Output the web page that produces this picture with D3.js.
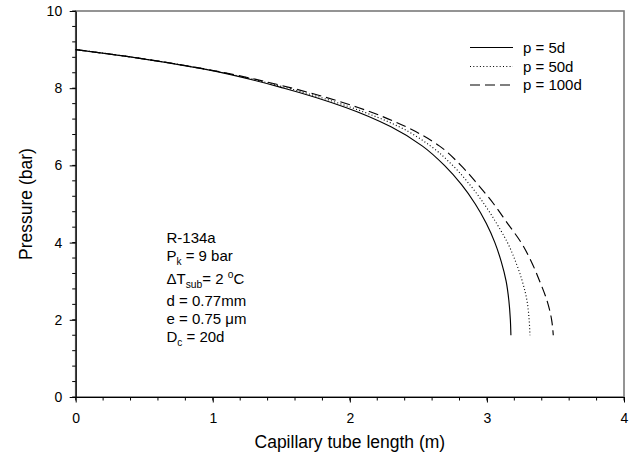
<!DOCTYPE html>
<html>
<head>
<meta charset="utf-8">
<script src="https://cdn.jsdelivr.net/npm/d3@7"></script>
<style>
  html, body { margin: 0; padding: 0; background: #fff; }
  svg { display: block; font-family: "Liberation Sans", Arial, sans-serif; }
</style>
</head>
<body>
<svg id="chart" width="634" height="466"></svg>
<script>
// Capillary tube pressure profiles: tube length (m) against pressure (bar)
const seriesNames = ["p = 5d", "p = 50d", "p = 100d"];

const pressureLevels = [9.0, 8.8, 8.5, 8.0, 7.5, 7.0, 6.5, 6.0, 5.5, 5.0, 4.5, 4.0, 3.5, 3.0, 2.5, 2.0, 1.6];

const lengthP5 = [0, 0.42, 0.93, 1.52, 1.97, 2.30, 2.53, 2.69, 2.815, 2.915, 2.995, 3.058, 3.105, 3.14, 3.16, 3.171, 3.175];
const lengthP50 = [0, 0.42, 0.935, 1.55, 2.01, 2.36, 2.59, 2.75, 2.875, 2.98, 3.07, 3.15, 3.21, 3.258, 3.292, 3.308, 3.314];
const lengthP100 = [0, 0.42, 0.94, 1.58, 2.06, 2.41, 2.655, 2.81, 2.935, 3.05, 3.15, 3.25, 3.325, 3.385, 3.438, 3.472, 3.484];

const xTicks = [0, 1, 2, 3, 4];
const yTicks = [0, 2, 4, 6, 8, 10];

const svg = d3.select("#chart");
const x = d3.scaleLinear().domain([0, 4]).range([75.7, 624]);
const y = d3.scaleLinear().domain([0, 10]).range([397, 11]);

// outer frame
svg.append("rect")
  .attr("x", x(0)).attr("y", y(10))
  .attr("width", x(4) - x(0)).attr("height", y(0) - y(10))
  .attr("fill", "none").attr("stroke", "#7a7a7a").attr("stroke-width", 1.6);

// minor ticks
const xMinor = d3.range(0, 4.0001, 0.2);
const yMinor = d3.range(0, 10.0001, 0.4);
svg.append("g").selectAll("line").data(xMinor).join("line")
  .attr("x1", d => x(d)).attr("x2", d => x(d))
  .attr("y1", y(0)).attr("y2", y(0) + 3.5)
  .attr("stroke", "#000").attr("stroke-width", 1);
svg.append("g").selectAll("line").data(yMinor).join("line")
  .attr("x1", x(0) - 3.5).attr("x2", x(0))
  .attr("y1", d => y(d)).attr("y2", d => y(d))
  .attr("stroke", "#000").attr("stroke-width", 1);

// axes
const xAxis = svg.append("g").attr("transform", `translate(0,${y(0)})`)
  .call(d3.axisBottom(x).tickValues(xTicks).tickFormat(d3.format("d")).tickSize(5.5).tickSizeOuter(0));
const yAxis = svg.append("g").attr("transform", `translate(${x(0)},0)`)
  .call(d3.axisLeft(y).tickValues(yTicks).tickFormat(d3.format("d")).tickSize(6).tickSizeOuter(0));
[xAxis, yAxis].forEach(g => {
  g.select(".domain").attr("stroke", "#000").attr("stroke-width", 1.2);
  g.selectAll(".tick line").attr("stroke", "#000").attr("stroke-width", 1);
  g.selectAll("text").attr("font-size", 14).attr("fill", "#000")
    .attr("font-family", "Liberation Sans, Arial, sans-serif");
});
xAxis.selectAll("text").attr("y", 16.5);
yAxis.selectAll("text").attr("x", -13.5);

// axis titles
svg.append("text")
  .attr("x", (x(0) + x(4)) / 2).attr("y", 448)
  .attr("text-anchor", "middle").attr("font-size", 17.5)
  .text("Capillary tube length (m)");
svg.append("text")
  .attr("transform", `translate(32,${(y(0) + y(10)) / 2}) rotate(-90)`)
  .attr("text-anchor", "middle").attr("font-size", 17.5)
  .text("Pressure (bar)");

// curves
const dashes = [null, "1,2.3", "10,5"];
const series = [lengthP5, lengthP50, lengthP100]
  .map(lengths => lengths.map((l, i) => [l, pressureLevels[i]]));
const line = d3.line()
  .x(d => x(d[0])).y(d => y(d[1]))
  .curve(d3.curveMonotoneY);

svg.append("g").selectAll("path").data(series).join("path")
  .attr("d", line)
  .attr("fill", "none").attr("stroke", "#000").attr("stroke-width", 1.15)
  .attr("stroke-dasharray", (d, i) => dashes[i]);

// legend
const legend = svg.append("g");
const legendY = [47.5, 66.5, 85];
seriesNames.forEach((name, i) => {
  legend.append("line")
    .attr("x1", 470).attr("x2", 513)
    .attr("y1", legendY[i]).attr("y2", legendY[i])
    .attr("stroke", "#000").attr("stroke-width", 1.15)
    .attr("stroke-dasharray", dashes[i]);
  legend.append("text")
    .attr("x", 523).attr("y", legendY[i]).attr("dy", "0.36em")
    .attr("font-size", 15).text(name);
});

// refrigerant and tube parameters
const note = svg.append("g").attr("font-size", 15);
const nx = 166.5;
note.append("text").attr("x", nx).attr("y", 243).text("R-134a");
const pk = note.append("text").attr("x", nx).attr("y", 261);
pk.append("tspan").text("P");
pk.append("tspan").attr("font-size", 10).attr("dy", 4).text("k");
pk.append("tspan").attr("dy", -4).text(" = 9 bar");
const dt = note.append("text").attr("x", nx).attr("y", 284.3);
dt.append("tspan").text("\u0394T");
dt.append("tspan").attr("font-size", 10.3).attr("dy", 4).text("sub");
dt.append("tspan").attr("dy", -4).text("= 2 ");
dt.append("tspan").attr("font-size", 10.3).attr("dy", -6).text("o");
dt.append("tspan").attr("dy", 6).text("C");
note.append("text").attr("x", nx).attr("y", 306).text("d = 0.77mm");
note.append("text").attr("x", nx).attr("y", 324).text("e = 0.75 \u03bcm");
const dc = note.append("text").attr("x", nx).attr("y", 342);
dc.append("tspan").text("D");
dc.append("tspan").attr("font-size", 10).attr("dy", 4).text("c");
dc.append("tspan").attr("dy", -4).text(" = 20d");
</script>
</body>
</html>
